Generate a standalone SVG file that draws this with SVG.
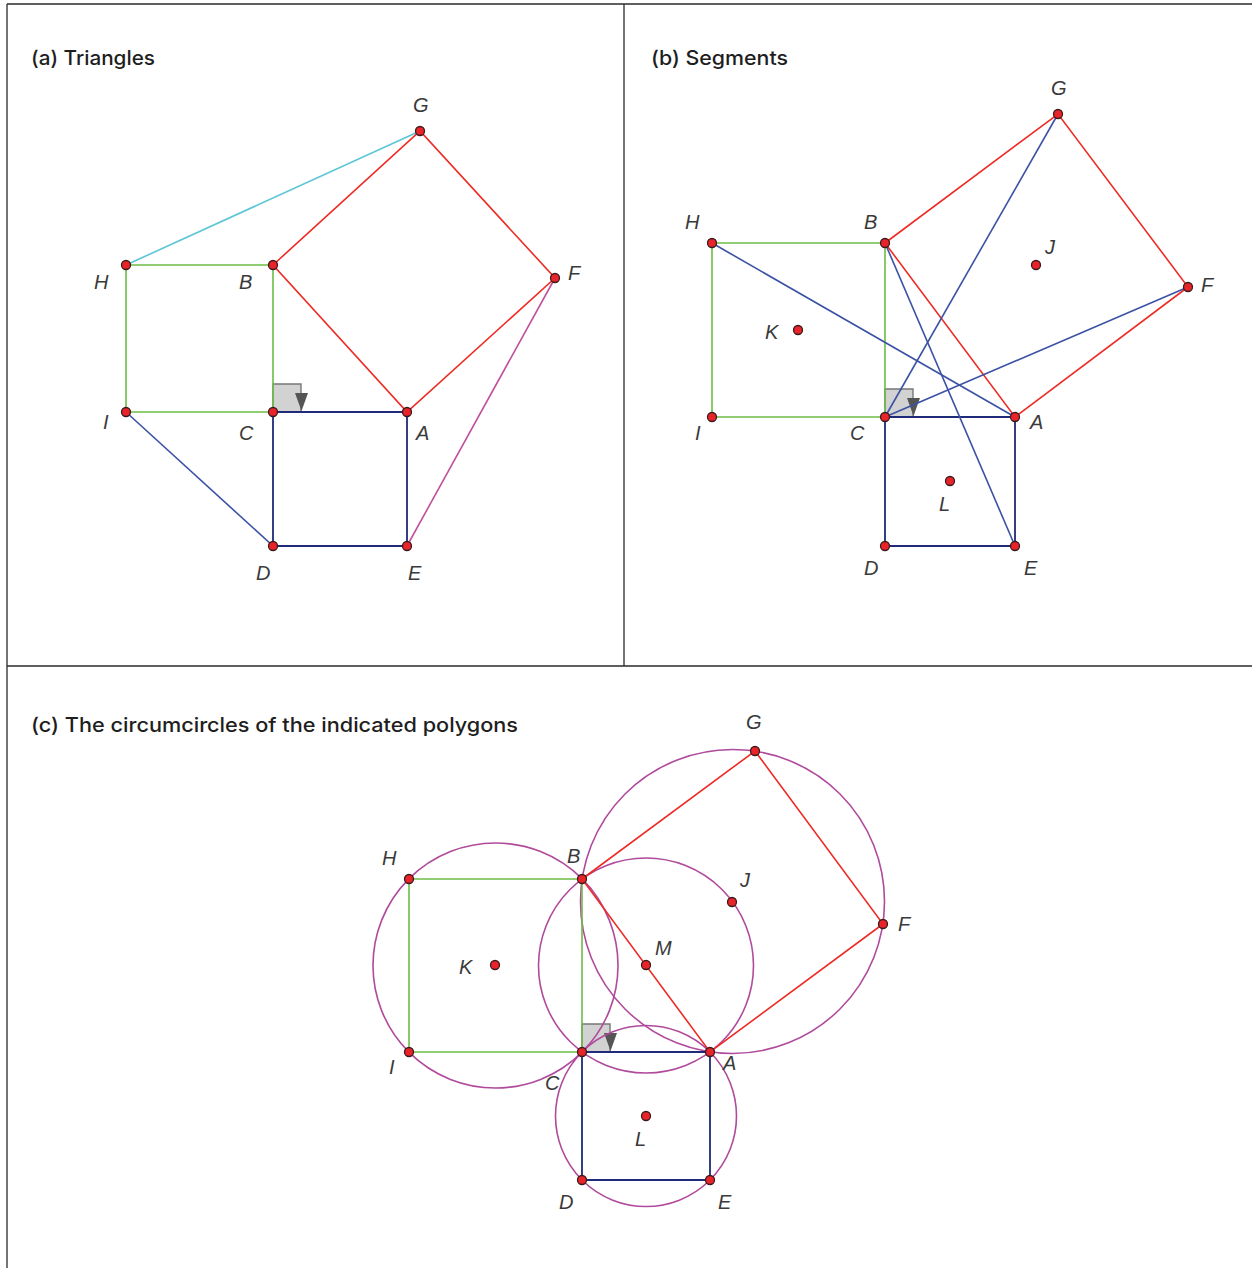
<svg xmlns="http://www.w3.org/2000/svg" width="1252" height="1268" viewBox="0 0 1252 1268">
<style>
.frame{stroke:#2a2a2a;stroke-width:1.3;fill:none}
.title{font-family:Inter,"Liberation Sans",Arial,sans-serif;font-size:20px;font-weight:500;fill:#1e1e1e}
.lbl{font-family:"Liberation Sans",Arial,sans-serif;font-size:20px;font-style:italic;fill:#3a3a3a}
.g{stroke:#6cbd45;stroke-width:1.6;fill:none}
.r{stroke:#ee2b24;stroke-width:1.6;fill:none}
.n{stroke:#1f2a78;stroke-width:1.8;fill:none}
.b{stroke:#3b52a4;stroke-width:1.6;fill:none}
.cy{stroke:#5cc6d6;stroke-width:1.6;fill:none}
.m{stroke:#c0509b;stroke-width:1.6;fill:none}
.circ{stroke:#b04a9c;stroke-width:1.6;fill:none}
.pt{fill:#e8242a;stroke:#3a1a1a;stroke-width:1.3}
.ra{fill:#d2d2d2;stroke:#777;stroke-width:1.4}
.ar{fill:#555}
</style>
<rect width="1252" height="1268" fill="#fff"/>
<g id="frame">
<line class="frame" x1="7" y1="4" x2="1252" y2="4"/>
<line class="frame" x1="7" y1="4" x2="7" y2="1268"/>
<line class="frame" x1="624" y1="4" x2="624" y2="666"/>
<line class="frame" x1="7" y1="666" x2="1252" y2="666"/>
</g>
<g id="titles">
<text class="title" x="31" y="65" textLength="124" lengthAdjust="spacingAndGlyphs">(a) Triangles</text>
<text class="title" x="651" y="65" textLength="137" lengthAdjust="spacingAndGlyphs">(b) Segments</text>
<text class="title" x="31" y="732" textLength="487" lengthAdjust="spacingAndGlyphs">(c) The circumcircles of the indicated polygons</text>
</g>

<!-- Panel (a) -->
<g id="rightangle-a">
<path class="ra" d="M273,412 V384 H301 V412"/>
<polygon class="ar" points="295,393 308,393 301.5,411"/>
</g>
<g id="connectors-a">
<line class="cy" x1="126" y1="265" x2="420" y2="131"/>
<polyline class="g" points="273,265 126,265 126,412 273,412 273,265"/>
<polygon class="r" points="273,265 420,131 555,278 407,412"/>
<polygon class="n" points="273,412 407,412 407,546 273,546"/>
<line class="b" x1="126" y1="412" x2="273" y2="546"/>
<line class="m" x1="555" y1="278" x2="407" y2="546"/>
</g>
<g id="nodes-a">
<g id="a-G"><circle class="pt" cx="420" cy="131" r="4.5"/><text class="lbl" x="413" y="112">G</text></g>
<g id="a-H"><circle class="pt" cx="126" cy="265" r="4.5"/><text class="lbl" x="94" y="289">H</text></g>
<g id="a-B"><circle class="pt" cx="273" cy="265" r="4.5"/><text class="lbl" x="239" y="289">B</text></g>
<g id="a-F"><circle class="pt" cx="555" cy="278" r="4.5"/><text class="lbl" x="568" y="280">F</text></g>
<g id="a-I"><circle class="pt" cx="126" cy="412" r="4.5"/><text class="lbl" x="103" y="429">I</text></g>
<g id="a-C"><circle class="pt" cx="273" cy="412" r="4.5"/><text class="lbl" x="239" y="440">C</text></g>
<g id="a-A"><circle class="pt" cx="407" cy="412" r="4.5"/><text class="lbl" x="416" y="440">A</text></g>
<g id="a-D"><circle class="pt" cx="273" cy="546" r="4.5"/><text class="lbl" x="256" y="580">D</text></g>
<g id="a-E"><circle class="pt" cx="407" cy="546" r="4.5"/><text class="lbl" x="408" y="580">E</text></g>
</g>

<!-- Panel (b) -->
<g id="rightangle-b">
<path class="ra" d="M885,417 V389 H913 V417"/>
<polygon class="ar" points="907,398 920,398 913.5,416"/>
</g>
<g id="connectors-b">
<polyline class="g" points="885,243 712,243 712,417 885,417 885,243"/>
<polygon class="r" points="885,243 1058,114 1188,287 1015,417"/>
<polygon class="n" points="885,417 1015,417 1015,546 885,546"/>
<line class="b" x1="712" y1="243" x2="1015" y2="417"/>
<line class="b" x1="885" y1="243" x2="1015" y2="546"/>
<line class="b" x1="885" y1="417" x2="1058" y2="114"/>
<line class="b" x1="885" y1="417" x2="1188" y2="287"/>
</g>
<g id="nodes-b">
<g id="b-G"><circle class="pt" cx="1058" cy="114" r="4.5"/><text class="lbl" x="1051" y="95">G</text></g>
<g id="b-H"><circle class="pt" cx="712" cy="243" r="4.5"/><text class="lbl" x="685" y="229">H</text></g>
<g id="b-B"><circle class="pt" cx="885" cy="243" r="4.5"/><text class="lbl" x="864" y="229">B</text></g>
<g id="b-J"><circle class="pt" cx="1036" cy="265" r="4.5"/><text class="lbl" x="1045" y="254">J</text></g>
<g id="b-F"><circle class="pt" cx="1188" cy="287" r="4.5"/><text class="lbl" x="1201" y="292">F</text></g>
<g id="b-K"><circle class="pt" cx="798" cy="330" r="4.5"/><text class="lbl" x="765" y="339">K</text></g>
<g id="b-I"><circle class="pt" cx="712" cy="417" r="4.5"/><text class="lbl" x="695" y="440">I</text></g>
<g id="b-C"><circle class="pt" cx="885" cy="417" r="4.5"/><text class="lbl" x="850" y="440">C</text></g>
<g id="b-A"><circle class="pt" cx="1015" cy="417" r="4.5"/><text class="lbl" x="1030" y="429">A</text></g>
<g id="b-L"><circle class="pt" cx="950" cy="481" r="4.5"/><text class="lbl" x="939" y="511">L</text></g>
<g id="b-D"><circle class="pt" cx="885" cy="546" r="4.5"/><text class="lbl" x="864" y="575">D</text></g>
<g id="b-E"><circle class="pt" cx="1015" cy="546" r="4.5"/><text class="lbl" x="1024" y="575">E</text></g>
</g>

<!-- Panel (c) -->
<g id="rightangle-c">
<path class="ra" d="M582,1052 V1024 H610 V1052"/>
<polygon class="ar" points="604,1033 617,1033 610.5,1051"/>
</g>
<g id="connectors-c">
<circle class="circ" cx="495.5" cy="965.5" r="122.5"/>
<circle class="circ" cx="732.5" cy="901.5" r="152"/>
<circle class="circ" cx="646" cy="965.5" r="107.5"/>
<circle class="circ" cx="646" cy="1116" r="90.5"/>
<polyline class="g" points="582,879 409,879 409,1052 582,1052 582,879"/>
<polygon class="r" points="582,879 755,751 883,924 710,1052"/>
<polygon class="n" points="582,1052 710,1052 710,1180 582,1180"/>
</g>
<g id="nodes-c">
<g id="c-G"><circle class="pt" cx="755" cy="751" r="4.5"/><text class="lbl" x="746" y="729">G</text></g>
<g id="c-H"><circle class="pt" cx="409" cy="879" r="4.5"/><text class="lbl" x="382" y="865">H</text></g>
<g id="c-B"><circle class="pt" cx="582" cy="879" r="4.5"/><text class="lbl" x="567" y="863">B</text></g>
<g id="c-J"><circle class="pt" cx="732" cy="902" r="4.5"/><text class="lbl" x="740" y="887">J</text></g>
<g id="c-F"><circle class="pt" cx="883" cy="924" r="4.5"/><text class="lbl" x="898" y="931">F</text></g>
<g id="c-K"><circle class="pt" cx="495" cy="965" r="4.5"/><text class="lbl" x="459" y="974">K</text></g>
<g id="c-M"><circle class="pt" cx="646" cy="965" r="4.5"/><text class="lbl" x="655" y="955">M</text></g>
<g id="c-I"><circle class="pt" cx="409" cy="1052" r="4.5"/><text class="lbl" x="389" y="1074">I</text></g>
<g id="c-C"><circle class="pt" cx="582" cy="1052" r="4.5"/><text class="lbl" x="545" y="1090">C</text></g>
<g id="c-A"><circle class="pt" cx="710" cy="1052" r="4.5"/><text class="lbl" x="723" y="1070">A</text></g>
<g id="c-L"><circle class="pt" cx="646" cy="1116" r="4.5"/><text class="lbl" x="635" y="1146">L</text></g>
<g id="c-D"><circle class="pt" cx="582" cy="1180" r="4.5"/><text class="lbl" x="559" y="1209">D</text></g>
<g id="c-E"><circle class="pt" cx="710" cy="1180" r="4.5"/><text class="lbl" x="718" y="1209">E</text></g>
</g>
</svg>
